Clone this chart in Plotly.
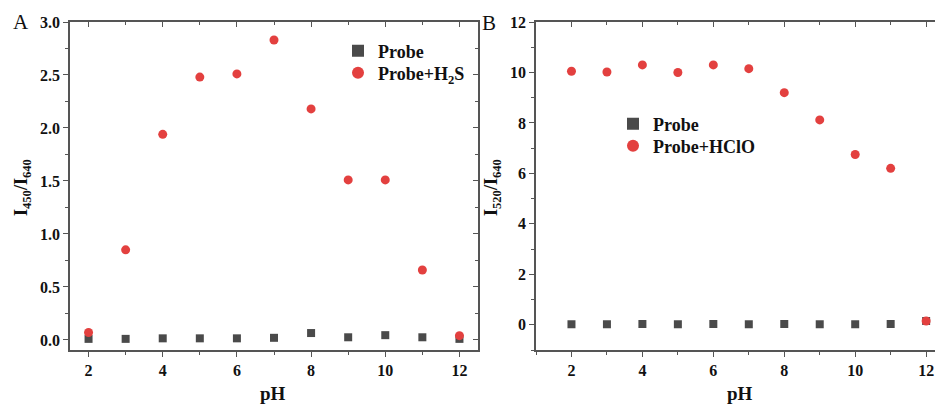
import plotly.graph_objects as go

ph = [2, 3, 4, 5, 6, 7, 8, 9, 10, 11, 12]

probe_a = [0.01, 0.01, 0.015, 0.015, 0.015, 0.02, 0.065, 0.025, 0.045, 0.025, 0.01]
h2s_a = [0.07, 0.85, 1.94, 2.48, 2.51, 2.83, 2.18, 1.51, 1.51, 0.66, 0.04]

probe_b = [0.02, 0.02, 0.03, 0.02, 0.03, 0.02, 0.03, 0.02, 0.02, 0.03, 0.15]
hclo_b = [10.05, 10.02, 10.3, 10.0, 10.3, 10.15, 9.2, 8.12, 6.75, 6.2, 0.15]

x_ticks = [2, 4, 6, 8, 10, 12]
ya_ticks = [0.0, 0.5, 1.0, 1.5, 2.0, 2.5, 3.0]
yb_ticks = [0, 2, 4, 6, 8, 10, 12]

GRAY = "#4a4a4a"
RED = "#e3403f"
AX = "#555555"
FONT = "Liberation Serif"

W, H = 935, 407

def px(x):
    return x / W

def py(y):
    return 1 - y / H

fig = go.Figure()

fig.add_trace(go.Scatter(x=ph, y=probe_a, mode="markers", name="<b>Probe</b>",
                         marker=dict(symbol="square", size=8, color=GRAY),
                         xaxis="x", yaxis="y", legend="legend"))
fig.add_trace(go.Scatter(x=ph, y=h2s_a, mode="markers", name="<b>Probe+H<sub>2</sub>S</b>",
                         marker=dict(symbol="circle", size=9, color=RED),
                         xaxis="x", yaxis="y", legend="legend3"))
fig.add_trace(go.Scatter(x=ph, y=probe_b, mode="markers", name="<b>Probe</b>",
                         marker=dict(symbol="square", size=8, color=GRAY),
                         xaxis="x2", yaxis="y2", legend="legend2"))
fig.add_trace(go.Scatter(x=ph, y=hclo_b, mode="markers", name="<b>Probe+HClO</b>",
                         marker=dict(symbol="circle", size=9, color=RED),
                         xaxis="x2", yaxis="y2", legend="legend4"))
# empty traces to activate the inward-tick mirror axes
fig.add_trace(go.Scatter(x=[], y=[], showlegend=False, hoverinfo="skip", xaxis="x3", yaxis="y3"))
fig.add_trace(go.Scatter(x=[], y=[], showlegend=False, hoverinfo="skip", xaxis="x4", yaxis="y2"))

tickfont = dict(family=FONT, size=16, color="#111111")

common_axis = dict(showline=True, linecolor=AX, linewidth=1.5, showgrid=False,
                   zeroline=False, ticks="outside", ticklen=5, tickwidth=1.2,
                   tickcolor=AX, tickfont=tickfont, automargin=False)

mirror_axis = dict(showline=False, showgrid=False, zeroline=False, showticklabels=False,
                   ticklen=5, tickwidth=1.2, tickcolor=AX, automargin=False, ticks="inside")

dom_a = [px(70), px(478)]
dom_b = [px(536), 1.0]
dom_y = [py(350), py(22)]

leg_font = dict(family=FONT, size=18, color="#111111")

def leg(x, y):
    return dict(x=px(x), y=py(y), xanchor="left", yanchor="middle", bgcolor="rgba(0,0,0,0)",
                font=leg_font, itemsizing="constant", borderwidth=0)

fig.update_layout(
    width=W, height=H,
    margin=dict(l=0, r=0, t=0, b=0, pad=0, autoexpand=False),
    paper_bgcolor="white", plot_bgcolor="white",
    font=dict(family=FONT, color="#111111"),
    xaxis=dict(domain=dom_a, range=[1.5, 12.5], tickvals=x_ticks, ticktext=[f"<b>{v}</b>" for v in x_ticks],
               anchor="y", mirror=True,
               minor=dict(dtick=1, tick0=1, ticks="outside", ticklen=3, tickcolor=AX), **common_axis),
    yaxis=dict(domain=dom_y, range=[-0.095, 3.0], tickvals=ya_ticks,
               ticktext=[f"<b>{v:.1f}</b>" for v in ya_ticks], anchor="x", mirror=True,
               minor=dict(dtick=0.25, tick0=0, ticks="outside", ticklen=3, tickcolor=AX), **common_axis),
    xaxis3=dict(domain=dom_a, range=[1.5, 12.5], overlaying="x", side="top", anchor="y3",
                tickvals=x_ticks,
                minor=dict(dtick=1, tick0=1, ticks="inside", ticklen=3, tickcolor=AX), **mirror_axis),
    yaxis3=dict(domain=dom_y, range=[-0.095, 3.0], overlaying="y", side="right", anchor="x3",
                tickvals=ya_ticks,
                minor=dict(dtick=0.25, tick0=0, ticks="inside", ticklen=3, tickcolor=AX), **mirror_axis),
    xaxis2=dict(domain=dom_b, range=[1.0, 12.25], tickvals=x_ticks, ticktext=[f"<b>{v}</b>" for v in x_ticks],
                anchor="y2", mirror=True,
                minor=dict(dtick=1, tick0=1, ticks="outside", ticklen=3, tickcolor=AX), **common_axis),
    yaxis2=dict(domain=dom_y, range=[-1, 12], tickvals=yb_ticks,
                ticktext=[f"<b>{v}</b>" for v in yb_ticks], anchor="x2",
                minor=dict(dtick=1, tick0=0, ticks="outside", ticklen=3, tickcolor=AX), **common_axis),
    xaxis4=dict(domain=dom_b, range=[1.0, 12.25], overlaying="x2", side="top", anchor="y2",
                tickvals=x_ticks,
                minor=dict(dtick=1, tick0=1, ticks="inside", ticklen=3, tickcolor=AX), **mirror_axis),
    legend=leg(338, 51),
    legend3=leg(338, 73),
    legend2=leg(613, 124),
    legend4=leg(613, 146),
    showlegend=True,
)

ann_font = dict(family=FONT, size=18, color="#111111")

def ann(text, x, y, font, angle=0):
    fig.add_annotation(text=text, textangle=angle, x=px(x), y=py(y), xref="paper", yref="paper",
                       xanchor="center", yanchor="middle", showarrow=False, font=font)

ann("<b>I<sub>450</sub>/I<sub>640</sub></b>", 22, 188, ann_font, -90)
ann("<b>I<sub>520</sub>/I<sub>640</sub></b>", 492, 188, ann_font, -90)
ann("<b>pH</b>", 273, 393, dict(family=FONT, size=19, color="#111111"))
ann("<b>pH</b>", 740, 393, dict(family=FONT, size=19, color="#111111"))
ann("A", 21, 22, dict(family=FONT, size=21, color="#111111"))
ann("B", 489, 23, dict(family=FONT, size=21, color="#111111"))

fig.write_html("out.html", config={"displayModeBar": False},
               post_script="document.body.style.margin='0';")
